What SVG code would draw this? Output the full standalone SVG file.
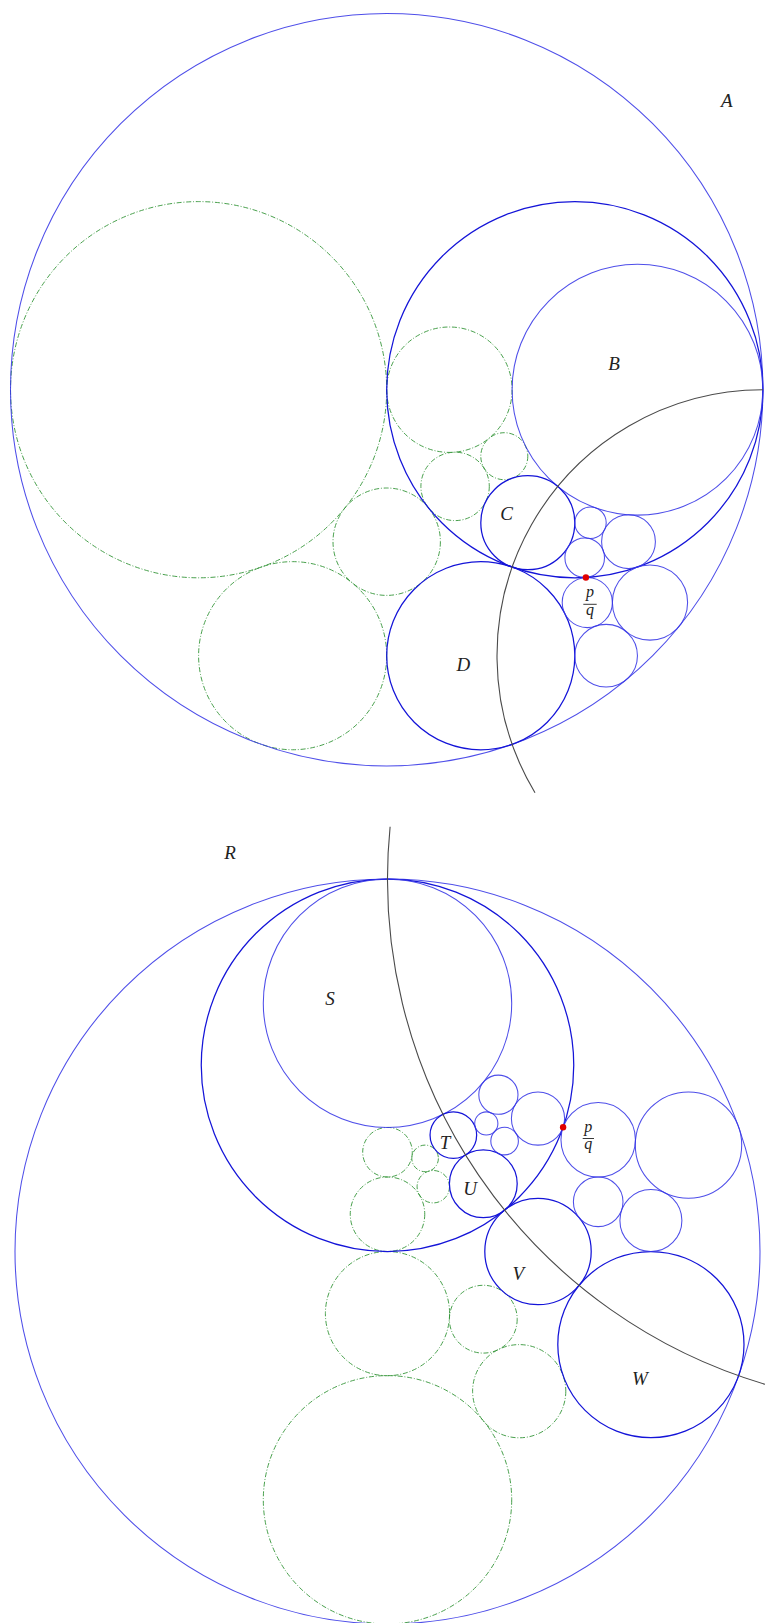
<svg xmlns="http://www.w3.org/2000/svg" width="765" height="1623" viewBox="0 0 765 1623">
<style>
  .bg { fill: #ffffff; }
  circle { fill: none; }
  .dk { stroke: #1414d8; stroke-width: 1.25; }
  .lt { stroke: #3535e6; stroke-width: 1.05; stroke-opacity: 0.88; }
  .gr { stroke: #35963a; stroke-width: 1; stroke-opacity: 0.9; stroke-dasharray: 5 1.8 1 1.8; }
  .arc { fill: none; stroke: #4a4a4a; stroke-width: 1.1; }
  .dot { fill: #e00000; stroke: none; }
  .lbl { font-family: "Liberation Serif", "DejaVu Serif", serif; font-style: italic; font-size: 19px; fill: #222222; text-anchor: middle; }
  .frac { font-family: "Liberation Serif", "DejaVu Serif", serif; font-style: italic; font-size: 16px; fill: #222222; text-anchor: middle; }
  .bar { stroke: #222222; stroke-width: 0.9; }
</style>
<rect class="bg" x="0" y="0" width="765" height="1623"/>

<!-- ===== Top figure ===== -->
<g id="top-green">
  <circle class="gr" cx="198.6" cy="389.7" r="188.1"/>
  <circle class="gr" cx="449.4" cy="389.7" r="62.7"/>
  <circle class="gr" cx="455.1" cy="486.4" r="34.2"/>
  <circle class="gr" cx="504.3" cy="456.2" r="23.5"/>
  <circle class="gr" cx="386.7" cy="541.7" r="53.7"/>
  <circle class="gr" cx="292.65" cy="655.7" r="94.05"/>
</g>
<g id="A"><circle class="lt" cx="386.7" cy="389.7" r="376.2"/><text class="lbl" x="726.7" y="106.5">A</text></g>
<g id="Bouter"><circle class="dk" cx="574.8" cy="389.7" r="188.1"/></g>
<g id="B"><circle class="lt" cx="637.5" cy="389.7" r="125.4"/><text class="lbl" x="614" y="369.5">B</text></g>
<g id="C"><circle class="dk" cx="527.8" cy="522.7" r="47.0"/><text class="lbl" x="506.7" y="520">C</text></g>
<g id="D"><circle class="dk" cx="480.75" cy="655.7" r="94.05"/><text class="lbl" x="463.3" y="671">D</text></g>
<g id="top-small">
  <circle class="lt" cx="590.5" cy="522.7" r="15.7"/>
  <circle class="lt" cx="584.7" cy="557.7" r="19.8"/>
  <circle class="lt" cx="628.5" cy="541.7" r="26.9"/>
  <circle class="lt" cx="650.0" cy="602.5" r="37.6"/>
  <circle class="lt" cx="606.1" cy="655.7" r="31.35"/>
</g>
<g id="PQ1">
  <circle class="lt" cx="587.3" cy="602.5" r="25.1"/>
  <text class="frac" x="590" y="597">p</text>
  <line class="bar" x1="583.3" y1="604.3" x2="596.7" y2="604.3"/>
  <text class="frac" x="590" y="615">q</text>
</g>

<!-- ===== Bottom figure ===== -->
<g id="bottom-green">
  <circle class="gr" cx="387.5" cy="1499.8" r="124.2"/>
  <circle class="gr" cx="387.5" cy="1313.6" r="62.1"/>
  <circle class="gr" cx="387.5" cy="1214.25" r="37.25"/>
  <circle class="gr" cx="387.5" cy="1152.2" r="24.8"/>
  <circle class="gr" cx="483.3" cy="1319.2" r="33.9"/>
  <circle class="gr" cx="519.2" cy="1391.2" r="46.6"/>
  <circle class="gr" cx="425.1" cy="1158.4" r="13.3"/>
  <circle class="gr" cx="433.3" cy="1186.7" r="16.2"/>
</g>
<g id="R"><circle class="lt" cx="387.5" cy="1251.5" r="372.5"/><text class="lbl" x="230" y="858.5">R</text></g>
<g id="Souter"><circle class="dk" cx="387.5" cy="1065.25" r="186.25"/></g>
<g id="S"><circle class="lt" cx="387.5" cy="1003.2" r="124.2"/><text class="lbl" x="330" y="1005">S</text></g>
<g id="T"><circle class="dk" cx="453.35" cy="1135.1" r="23.3"/><text class="lbl" x="445" y="1148.5">T</text></g>
<g id="U"><circle class="dk" cx="483.3" cy="1183.8" r="33.9"/><text class="lbl" x="470" y="1195">U</text></g>
<g id="V"><circle class="dk" cx="538.0" cy="1251.5" r="53.2"/><text class="lbl" x="518.3" y="1280">V</text></g>
<g id="W"><circle class="dk" cx="650.9" cy="1344.6" r="93.1"/><text class="lbl" x="640" y="1385">W</text></g>
<g id="bottom-small">
  <circle class="lt" cx="688.5" cy="1145.1" r="53.2"/>
  <circle class="lt" cx="598.2" cy="1201.8" r="24.8"/>
  <circle class="lt" cx="650.9" cy="1220.5" r="31.0"/>
  <circle class="lt" cx="498.4" cy="1094.7" r="19.6"/>
  <circle class="lt" cx="538.0" cy="1118.5" r="26.6"/>
  <circle class="lt" cx="486.3" cy="1123.45" r="11.6"/>
  <circle class="lt" cx="504.6" cy="1141.1" r="13.8"/>
</g>
<g id="PQ2">
  <circle class="lt" cx="598.2" cy="1139.75" r="37.25"/>
  <text class="frac" x="588.3" y="1131.5">p</text>
  <line class="bar" x1="582.7" y1="1138.5" x2="594" y2="1138.5"/>
  <text class="frac" x="588.3" y="1149">q</text>
</g>

<g id="connectors">
  <path class="arc" d="M 762.9 389.7 A 266 266 0 0 0 535 792.7"/>
  <path class="arc" d="M 390.1 826.7 A 526.8 526.8 0 0 0 770 1385.7"/>
</g>

<g id="points">
  <circle class="dot" cx="585.9" cy="577.5" r="3.2"/>
  <circle class="dot" cx="563.1" cy="1127.3" r="3.2"/>
</g>
</svg>
